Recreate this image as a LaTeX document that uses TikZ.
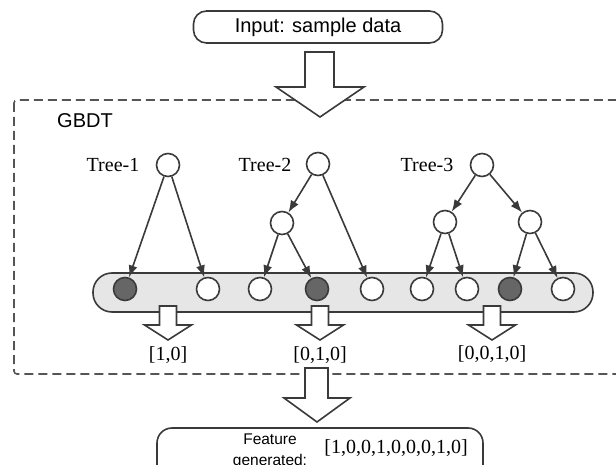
\documentclass[tikz,border=0pt]{standalone}
\usepackage{fontspec}
\setmainfont{Liberation Serif}
\newfontfamily\labelsans{Liberation Sans}
\usetikzlibrary{arrows.meta}
\definecolor{linegray}{HTML}{3A3A3A}
\definecolor{framegray}{HTML}{555555}
\definecolor{bandgray}{HTML}{E6E6E6}
\definecolor{leafdark}{HTML}{666666}
\begin{document}
\begin{tikzpicture}[x=1pt,y=-1pt,
  treenode/.style={circle,draw=linegray,line width=1.6pt,fill=white,minimum size=23pt,inner sep=0pt},
  hitleaf/.style={treenode,fill=leafdark},
  edge/.style={draw=linegray,line width=1.6pt,-{Latex[length=12pt,width=9pt]}},
  hollow/.style={draw=linegray,line width=1.6pt,fill=white,line join=miter},
  seriftext/.style={font=\fontsize{20}{24}\selectfont,inner sep=0pt},
  sanstext/.style={font=\labelsans\fontsize{20}{24}\selectfont,inner sep=0pt},
]
\useasboundingbox (0,0) rectangle (616,465);
\clip (0,0) rectangle (616,465);

% dashed GBDT frame
\draw[draw=framegray,line width=1.6pt,dash pattern=on 9pt off 5pt,rounded corners=3pt]
  (14,100) rectangle (640,374);
\node[sanstext] (gbdt) at (85,121) {GBDT};

% input box and the hollow arrow into the frame
\node[draw=linegray,line width=1.6pt,rounded corners=13pt,minimum width=249pt,
  minimum height=32pt,sanstext] (input) at (318,27) {Input: sample data};
\draw[hollow] (305,52) -- (334,52) -- (334,87) -- (364,87) -- (320,117)
  -- (276,87) -- (305,87) -- cycle;

% band holding the leaves
\node[draw=linegray,line width=1.6pt,fill=bandgray,rounded corners=19pt,
  minimum width=500pt,minimum height=39pt,inner sep=0pt] (band) at (343,292.5) {};

% leaves
\node[hitleaf]  (l1) at (125,289) {};
\node[treenode] (l2) at (208,289) {};
\node[treenode] (l3) at (260,289) {};
\node[hitleaf]  (l4) at (317,289) {};
\node[treenode] (l5) at (372,289) {};
\node[treenode] (l6) at (422,289) {};
\node[treenode] (l7) at (467,289) {};
\node[hitleaf]  (l8) at (510,289) {};
\node[treenode] (l9) at (563,289) {};

% Tree-1
\node[treenode] (t1) at (168,165) {};
\node[seriftext] (t1lab) at (113,165) {Tree-1};
\draw[edge] (t1) -- (l1);
\draw[edge] (t1) -- (l2);

% Tree-2
\node[treenode] (t2) at (318,164) {};
\node[seriftext] (t2lab) at (265,165) {Tree-2};
\node[treenode] (t2a) at (282,223) {};
\draw[edge] (t2) -- (t2a);
\draw[edge] (t2) -- (l5);
\draw[edge] (t2a) -- (l3);
\draw[edge] (t2a) -- (l4);

% Tree-3
\node[treenode] (t3) at (482,165) {};
\node[seriftext] (t3lab) at (427,165) {Tree-3};
\node[treenode] (t3a) at (445,222) {};
\node[treenode] (t3b) at (530,222) {};
\draw[edge] (t3) -- (t3a);
\draw[edge] (t3) -- (t3b);
\draw[edge] (t3a) -- (l6);
\draw[edge] (t3a) -- (l7);
\draw[edge] (t3b) -- (l8);
\draw[edge] (t3b) -- (l9);

% small hollow arrows and per-tree vectors
\foreach \cx in {168,320,492}{
  \draw[hollow] (\cx-8.5,306) -- (\cx+8.5,306) -- (\cx+8.5,325) -- (\cx+23.5,325)
    -- (\cx,340) -- (\cx-23.5,325) -- (\cx-8.5,325) -- cycle;
}
\node[seriftext] (v1) at (168,355) {[1,0]};
\node[seriftext] (v2) at (320,355) {[0,1,0]};
\node[seriftext] (v3) at (492,354) {[0,0,1,0]};

% hollow arrow out of the frame
\draw[hollow] (305,368) -- (328,368) -- (328,398) -- (350,398) -- (317,422)
  -- (284,398) -- (305,398) -- cycle;

% generated feature box
\node[draw=linegray,line width=1.6pt,rounded corners=15pt,minimum width=326pt,
  minimum height=56pt,inner sep=0pt] (out) at (320,456) {};
\node[font=\labelsans\fontsize{15.5}{21}\selectfont,align=center,inner sep=0pt]
  (featlab) at (270,451) {Feature\\generated:};
\node[seriftext] (featvec) at (396,448) {[1,0,0,1,0,0,0,1,0]};
\end{tikzpicture}
\end{document}
